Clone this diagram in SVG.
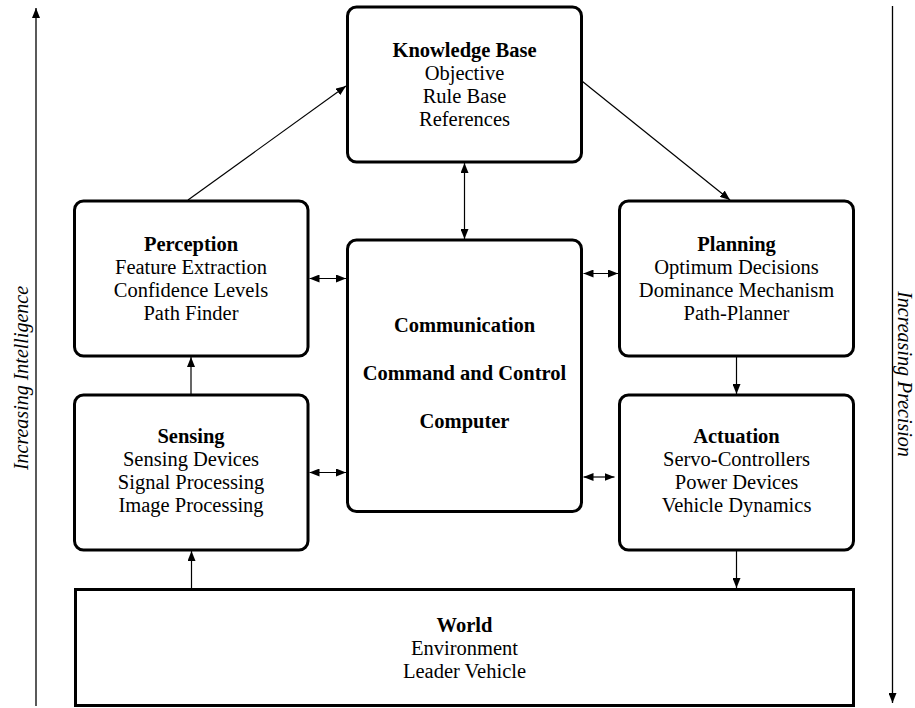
<svg xmlns="http://www.w3.org/2000/svg" width="915" height="708" viewBox="0 0 915 708">
  <style>
    .box { fill: #ffffff; stroke: #000000; stroke-width: 3; }
    .t { font-family: "Liberation Serif", "Times New Roman", serif; font-size: 20.5px; fill: #000000; text-anchor: middle; }
    .b { font-weight: bold; }
    .side { font-family: "Liberation Serif", "Times New Roman", serif; font-size: 20px; font-style: italic; fill: #000000; text-anchor: middle; }
    .edge { stroke: #000000; stroke-width: 1.2; fill: none; }
    .axis { stroke: #000000; stroke-width: 1.3; fill: none; }
  </style>
  <defs>
    <marker id="head" viewBox="0 0 10 8" refX="10" refY="4" markerWidth="10" markerHeight="8" markerUnits="userSpaceOnUse" orient="auto">
      <path d="M0,0 L10,4 L0,8 Z" fill="#000000"/>
    </marker>
    <marker id="tail" viewBox="0 0 10 8" refX="0" refY="4" markerWidth="10" markerHeight="8" markerUnits="userSpaceOnUse" orient="auto">
      <path d="M10,0 L0,4 L10,8 Z" fill="#000000"/>
    </marker>
  </defs>

  <!-- side scales -->
  <g id="axis-intelligence">
    <line class="axis" x1="36" y1="706" x2="36" y2="8" marker-end="url(#head)"/>
    <text class="side" transform="translate(28,378) rotate(-90)">Increasing Intelligence</text>
  </g>
  <g id="axis-precision">
    <line class="axis" x1="892.5" y1="6" x2="892.5" y2="703" marker-end="url(#head)"/>
    <text class="side" transform="translate(898,374) rotate(90)">Increasing Precision</text>
  </g>

  <!-- connectors -->
  <g id="connectors">
    <line class="edge" x1="188" y1="200" x2="346" y2="86" marker-end="url(#head)"/>
    <line class="edge" x1="582.5" y1="81.5" x2="730" y2="200" marker-end="url(#head)"/>
    <line class="edge" x1="464.5" y1="163" x2="464.5" y2="239" marker-start="url(#tail)" marker-end="url(#head)"/>
    <line class="edge" x1="309.5" y1="278.5" x2="346" y2="278.5" marker-start="url(#tail)" marker-end="url(#head)"/>
    <line class="edge" x1="309.5" y1="472.5" x2="346" y2="472.5" marker-start="url(#tail)" marker-end="url(#head)"/>
    <line class="edge" x1="583.5" y1="273.5" x2="618" y2="273.5" marker-start="url(#tail)" marker-end="url(#head)"/>
    <line class="edge" x1="583.5" y1="477" x2="614.5" y2="477" marker-start="url(#tail)" marker-end="url(#head)"/>
    <line class="edge" x1="191" y1="394" x2="191" y2="357" marker-end="url(#head)"/>
    <line class="edge" x1="736.5" y1="357" x2="736.5" y2="394" marker-end="url(#head)"/>
    <line class="edge" x1="191.5" y1="588" x2="191.5" y2="551" marker-end="url(#head)"/>
    <line class="edge" x1="736.5" y1="551" x2="736.5" y2="588" marker-end="url(#head)"/>
  </g>

  <!-- nodes -->
  <g id="knowledge-base">
    <rect class="box" x="347.5" y="7" width="234" height="155" rx="9"/>
    <text class="t b" x="464.5" y="56.5">Knowledge Base</text>
    <text class="t" x="464.5" y="79.5">Objective</text>
    <text class="t" x="464.5" y="102.5">Rule Base</text>
    <text class="t" x="464.5" y="125.5">References</text>
  </g>

  <g id="perception">
    <rect class="box" x="74.5" y="201" width="233.5" height="155" rx="9"/>
    <text class="t b" x="191" y="251">Perception</text>
    <text class="t" x="191" y="274">Feature Extraction</text>
    <text class="t" x="191" y="297">Confidence Levels</text>
    <text class="t" x="191" y="320">Path Finder</text>
  </g>

  <g id="sensing">
    <rect class="box" x="74.5" y="395" width="233.5" height="155" rx="9"/>
    <text class="t b" x="191" y="443">Sensing</text>
    <text class="t" x="191" y="466">Sensing Devices</text>
    <text class="t" x="191" y="489">Signal Processing</text>
    <text class="t" x="191" y="512">Image Processing</text>
  </g>

  <g id="c3">
    <rect class="box" x="347.5" y="240" width="234" height="271.5" rx="9"/>
    <text class="t b" x="464.5" y="332">Communication</text>
    <text class="t b" x="464.5" y="380">Command and Control</text>
    <text class="t b" x="464.5" y="428">Computer</text>
  </g>

  <g id="planning">
    <rect class="box" x="619.5" y="201" width="234" height="155" rx="9"/>
    <text class="t b" x="736.5" y="251">Planning</text>
    <text class="t" x="736.5" y="274">Optimum Decisions</text>
    <text class="t" x="736.5" y="297">Dominance Mechanism</text>
    <text class="t" x="736.5" y="320">Path-Planner</text>
  </g>

  <g id="actuation">
    <rect class="box" x="619.5" y="395" width="234" height="155" rx="9"/>
    <text class="t b" x="736.5" y="443">Actuation</text>
    <text class="t" x="736.5" y="466">Servo-Controllers</text>
    <text class="t" x="736.5" y="489">Power Devices</text>
    <text class="t" x="736.5" y="512">Vehicle Dynamics</text>
  </g>

  <g id="world">
    <rect class="box" x="75.5" y="589.5" width="778" height="116"/>
    <text class="t b" x="464.5" y="632">World</text>
    <text class="t" x="464.5" y="655">Environment</text>
    <text class="t" x="464.5" y="678">Leader Vehicle</text>
  </g>
</svg>
